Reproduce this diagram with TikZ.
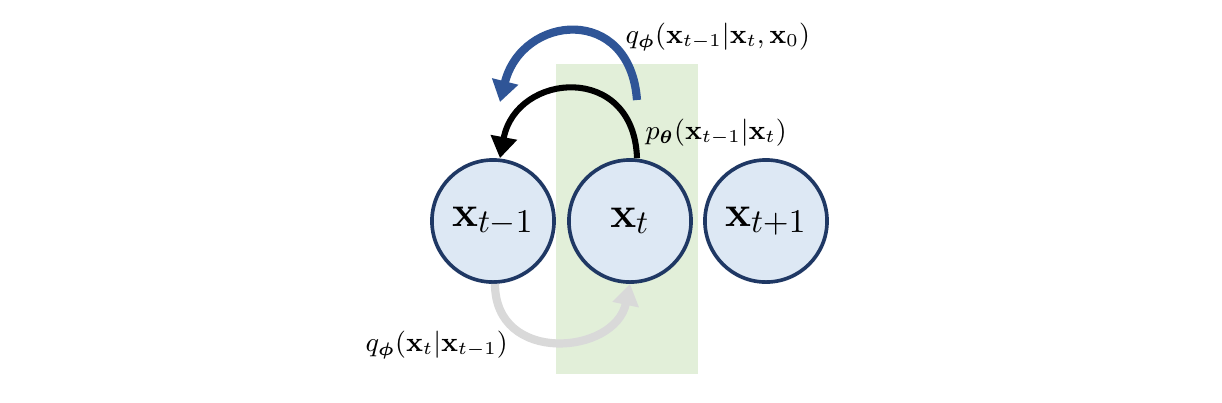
\documentclass[tikz,border=0pt]{standalone}
\usepackage{bm}
\usetikzlibrary{arrows.meta}
\definecolor{nodefill}{HTML}{DDE8F4}
\definecolor{nodeline}{HTML}{1F3864}
\definecolor{greenbg}{HTML}{E2EFD9}
\definecolor{bluearr}{HTML}{2F5597}
\definecolor{greyarr}{HTML}{D9D9D9}
\begin{document}
\begin{tikzpicture}[x=0.33pt,y=-0.33pt,
  state/.style={circle,draw=nodeline,fill=nodefill,line width=1.2pt,minimum size=40.3pt,inner sep=0pt,font=\fontsize{15}{18}\selectfont},
  arr/.style={line width=#1,-{Triangle[length=7pt,width=8.5pt]}},
  lbl/.style={inner sep=0pt,anchor=west,font=\fontsize{8.8}{10.5}\selectfont}]
\path[use as bounding box,fill=white] (0,0) rectangle (1222,402);
\fill[greenbg] (556,64) rectangle (698,374);
\node[state] (xm) at (493,221) {$\mathbf{x}_{t-1}$};
\node[state] (x) at (630,221) {$\mathbf{x}_{t}$};
\node[state] (xp) at (766,221) {$\mathbf{x}_{t+1}$};
\coordinate (bs) at (637,100);
\coordinate (be) at (500,102);
\draw[arr=2.7pt,bluearr] (bs) .. controls (630,4) and (522,14) .. (be);
\draw[arr=2pt,black] (x.north -| 637,0) .. controls (634,62) and (516,72) .. (xm.north -| 500,0);
\draw[arr=2.7pt,greyarr] (xm.south -| 495,0) .. controls (495,365) and (615,355) .. (x.south);
\node[lbl] (lq) at (625,37) {$q_{\bm{\phi}}(\mathbf{x}_{t-1}|\mathbf{x}_t,\mathbf{x}_0)$};
\node[lbl] (lp) at (645,133) {$p_{\bm{\theta}}(\mathbf{x}_{t-1}|\mathbf{x}_t)$};
\node[lbl] (lf) at (365,345) {$q_{\bm{\phi}}(\mathbf{x}_t|\mathbf{x}_{t-1})$};
\end{tikzpicture}
\end{document}
